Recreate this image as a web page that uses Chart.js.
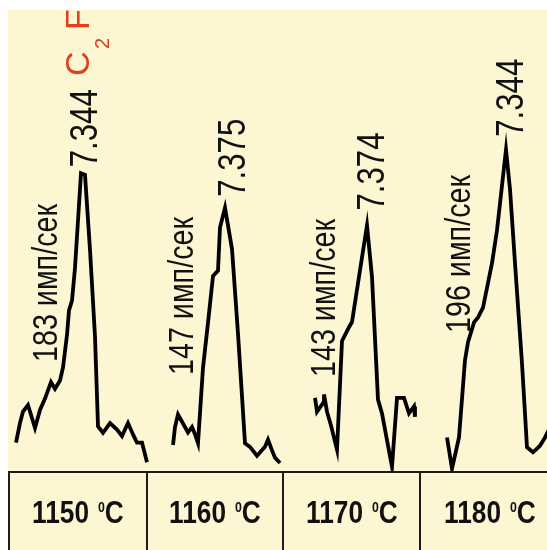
<!DOCTYPE html>
<html>
<head>
<meta charset="utf-8">
<script src="https://cdn.jsdelivr.net/npm/chart.js@4.4.1/dist/chart.umd.min.js"></script>
<style>
  body { margin: 0; background: #fff; }
  #board {
    position: absolute; left: 8px; top: 10px;
    width: 539px; height: 540px;
    background: #fdf6d3; overflow: hidden;
  }
  .plot { position: absolute; top: 0; }
  .cell {
    position: absolute; top: 461px; height: 100px;
    box-sizing: border-box;
    border-top: 2px solid #1c1c1c; border-left: 2px solid #1c1c1c;
    text-align: center; padding-top: 23px;
    font: bold 32px "Liberation Sans", Arial, sans-serif;
    line-height: 32px; color: #111;
  }
  .cell span { display: inline-block; transform: scaleX(0.82); white-space: nowrap; }
  .cell sup { font-size: 15px; position: relative; top: -5px; vertical-align: top; margin-left: 2px; }
</style>
</head>
<body>
<div id="board">
  <canvas class="plot" id="p0" width="145" height="462" style="left:1px"></canvas>
  <canvas class="plot" id="p1" width="145" height="462" style="left:139px"></canvas>
  <canvas class="plot" id="p2" width="145" height="462" style="left:275px"></canvas>
  <canvas class="plot" id="p3" width="127" height="462" style="left:412px"></canvas>
</div>
<script>
// furnace temperatures, one chromatogram each
const temps = ["1150", "1160", "1170", "1180"];
// retention time of the peak top, min
const peakTimes = [7.344, 7.375, 7.374, 7.344];
// peak intensity, counts per second
const peakRates = [183, 147, 143, 196];

const times1150 = [7.084, 7.100, 7.112, 7.132, 7.160, 7.180, 7.200, 7.224, 7.240, 7.260, 7.272, 7.288, 7.296, 7.308, 7.320, 7.344, 7.360, 7.380, 7.400, 7.412, 7.432, 7.460, 7.488, 7.508, 7.532, 7.552, 7.568, 7.588, 7.608];
const counts1150 = [18, 30, 37, 41, 27, 38, 45, 55, 51, 56, 64, 84, 99, 105, 125, 183, 182, 136, 83, 28, 24, 30, 26, 22, 30, 23, 18, 18, 6];

const times1160 = [7.167, 7.175, 7.187, 7.207, 7.227, 7.243, 7.255, 7.267, 7.287, 7.307, 7.327, 7.347, 7.355, 7.375, 7.403, 7.427, 7.455, 7.475, 7.503, 7.535, 7.547, 7.563, 7.575, 7.595];
const counts1160 = [15, 25, 32, 27, 22, 25, 21, 16, 58, 83, 109, 112, 136, 147, 124, 77, 16, 14, 9, 14, 18, 12, 8, 5];

const times1170 = [7.166, 7.174, 7.198, 7.202, 7.214, 7.230, 7.254, 7.274, 7.302, 7.314, 7.346, 7.374, 7.394, 7.418, 7.434, 7.474, 7.494, 7.522, 7.542, 7.562, 7.566];
const counts1170 = [43, 35, 40, 45, 35, 27, 13, 76, 84, 87, 117, 143, 113, 42, 34, 3, 43, 43, 34, 38, 32];

const times1180 = [7.108, 7.128, 7.156, 7.180, 7.192, 7.216, 7.232, 7.252, 7.288, 7.308, 7.344, 7.360, 7.380, 7.408, 7.428, 7.452, 7.480, 7.500, 7.520];
const counts1180 = [21, 2, 21, 68, 79, 91, 94, 100, 127, 147, 196, 172, 127, 66, 15, 12, 16, 21, 27];

const allTimes = [times1150, times1160, times1170, times1180];
const allCounts = [counts1150, counts1160, counts1170, counts1180];

// visible window of every panel
const xMin = [7.056, 7.063, 7.038, 7.000];
const xMax = [7.636, 7.643, 7.618, 7.508];
const yMax = [283, 257, 268, 281];

// label placement (px): retention label relative to the peak top, rate label inside the panel
const timeLabelShift = [[16, -6], [20, -11], [17, -15], [17, -13]];
const rateLabelPos = [[48, 352], [46, 365], [52, 367], [50, 323]];

const FONT = '"Liberation Sans", Arial, sans-serif';

function rotatedText(ctx, text, x, y, size, color, squeeze) {
  ctx.save();
  ctx.translate(x, y);
  ctx.rotate(-Math.PI / 2);
  ctx.scale(squeeze, 1);
  ctx.font = size + "px " + FONT;
  ctx.fillStyle = color;
  ctx.textAlign = "left";
  ctx.textBaseline = "alphabetic";
  ctx.fillText(text, 0, 0);
  ctx.restore();
}

const peakLabels = {
  id: "peakLabels",
  afterDatasetsDraw(chart, args, opts) {
    const i = opts.index;
    const ctx = chart.ctx;
    const px = chart.scales.x.getPixelForValue(peakTimes[i]);
    const py = chart.scales.y.getPixelForValue(peakRates[i]);
    rotatedText(ctx, peakTimes[i].toFixed(3), px + timeLabelShift[i][0], py + timeLabelShift[i][1], 38, "#111", 0.82);
    rotatedText(ctx, peakRates[i] + " имп/сек", rateLabelPos[i][0], rateLabelPos[i][1], 35, "#111", 0.82);
    if (i === 0) {
      // compound name above the first peak, subscripts dropped well below the baseline
      ctx.save();
      ctx.translate(80, 66);
      ctx.rotate(-Math.PI / 2);
      ctx.fillStyle = "#e2401c";
      ctx.textBaseline = "alphabetic";
      ctx.font = "34px " + FONT;
      ctx.fillText("C", 0, 0);
      ctx.font = "20px " + FONT;
      ctx.fillText("2", 27, 20);
      ctx.font = "34px " + FONT;
      ctx.fillText("F", 46, 0);
      ctx.font = "20px " + FONT;
      ctx.fillText("6", 70, 20);
      ctx.restore();
    }
  }
};

temps.forEach((t, i) => {
  const points = allTimes[i].map((x, k) => ({ x: x, y: allCounts[i][k] }));
  new Chart(document.getElementById("p" + i), {
    type: "line",
    data: {
      datasets: [{
        label: t + " °C",
        data: points,
        borderColor: "#000",
        borderWidth: 3.8,
        borderJoinStyle: "miter",
        pointRadius: 0,
        tension: 0,
        fill: false,
        clip: false
      }]
    },
    options: {
      responsive: false,
      animation: false,
      events: [],
      layout: { padding: 0 },
      scales: {
        x: { type: "linear", min: xMin[i], max: xMax[i], display: false },
        y: { type: "linear", min: 0, max: yMax[i], display: false }
      },
      plugins: {
        legend: { display: false },
        tooltip: { enabled: false },
        peakLabels: { index: i }
      }
    },
    plugins: [peakLabels]
  });
});

// temperature row under the chromatograms
const cellLeft = [0, 138, 274, 411];
const cellWidth = [138, 136, 137, 140];
const board = document.getElementById("board");
temps.forEach((t, i) => {
  const cell = document.createElement("div");
  cell.className = "cell";
  cell.style.left = cellLeft[i] + "px";
  cell.style.width = cellWidth[i] + "px";
  cell.innerHTML = "<span>" + t + " <sup>0</sup>C</span>";
  board.appendChild(cell);
});
</script>
</body>
</html>
